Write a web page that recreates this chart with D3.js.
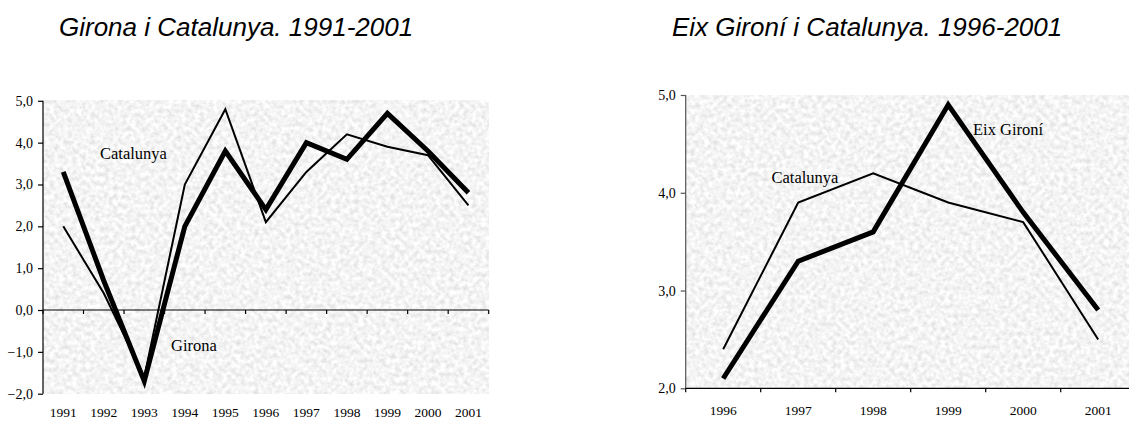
<!DOCTYPE html>
<html>
<head>
<meta charset="utf-8">
<script src="https://cdn.jsdelivr.net/npm/d3@7"></script>
<style>
  html, body { margin: 0; padding: 0; background: #fff; }
  svg { display: block; }
</style>
</head>
<body>
<svg id="chart" width="1129" height="421"></svg>
<script>
// ---- Data ----
const yearsLeft = ["1991","1992","1993","1994","1995","1996","1997","1998","1999","2000","2001"];
const gironaLeft = [3.3, 0.7, -1.7, 2.0, 3.8, 2.4, 4.0, 3.6, 4.7, 3.8, 2.8];
const catalunyaLeft = [2.0, 0.4, -1.6, 3.0, 4.8, 2.1, 3.3, 4.2, 3.9, 3.7, 2.5];
const yTicksLeft = [-2, -1, 0, 1, 2, 3, 4, 5];

const yearsRight = ["1996","1997","1998","1999","2000","2001"];
const eixRight = [2.1, 3.3, 3.6, 4.9, 3.8, 2.8];
const catalunyaRight = [2.4, 3.9, 4.2, 3.9, 3.7, 2.5];
const yTicksRight = [2, 3, 4, 5];

const titleLeft = "Girona i Catalunya. 1991-2001";
const titleRight = "Eix Gironí i Catalunya. 1996-2001";

// ---- Setup ----
const svg = d3.select("#chart");
const defs = svg.append("defs");
const f = defs.append("filter").attr("id", "noise")
  .attr("x", 0).attr("y", 0).attr("width", 1).attr("height", 1);
f.append("feTurbulence").attr("type", "fractalNoise")
  .attr("baseFrequency", 0.22).attr("numOctaves", 2).attr("seed", 7);
f.append("feColorMatrix").attr("type", "matrix")
  .attr("values", "0.45 0 0 0 0.68  0.45 0 0 0 0.68  0.45 0 0 0 0.68  0 0 0 0 1");

const fmt = v => d3.format(".1f")(v).replace(".", ",");
const serif = "'Liberation Serif', 'Times New Roman', serif";
const sans = "'Liberation Sans', Arial, sans-serif";

function drawPanel(opts) {
  const { years, thick, thin, yDomain, yTicks, xRange, yRange, axisY, axisColor } = opts;
  const x = d3.scaleBand().domain(years).range(xRange).padding(0);
  const y = d3.scaleLinear().domain(yDomain).range(yRange);
  const g = svg.append("g");

  // textured background
  g.append("rect")
    .attr("x", xRange[0]).attr("y", yRange[1])
    .attr("width", xRange[1] - xRange[0]).attr("height", yRange[0] - yRange[1])
    .attr("fill", "#e6e6e6")
    .attr("filter", "url(#noise)");

  // y axis
  const yAxis = d3.axisLeft(y).tickValues(yTicks).tickFormat(fmt).tickSize(5).tickPadding(5);
  const ya = g.append("g").attr("transform", `translate(${xRange[0]},0)`).call(yAxis);
  ya.select(".domain").attr("stroke", axisColor).attr("stroke-width", 1.2).attr("d", `M0,${yRange[1]}V${yRange[0]}`);
  ya.selectAll(".tick line").attr("stroke", axisColor).attr("stroke-width", 1.2);
  ya.selectAll("text").attr("font-family", serif).attr("font-size", 14).attr("fill", "#000");

  // x axis (ticks at category boundaries)
  const xa = g.append("g").attr("transform", `translate(0,${y(axisY)})`);
  xa.append("line").attr("x1", xRange[0]).attr("x2", xRange[1])
    .attr("stroke", "#000").attr("stroke-width", 1.2);
  const bounds = years.map(d => x(d)).concat([x(years[years.length - 1]) + x.bandwidth()]);
  xa.selectAll("line.tk").data(bounds).join("line").attr("class", "tk")
    .attr("x1", d => d).attr("x2", d => d).attr("y1", 0).attr("y2", 4)
    .attr("stroke", "#000").attr("stroke-width", 1.2);

  // year labels
  g.selectAll("text.yr").data(years).join("text").attr("class", "yr")
    .attr("x", d => x(d) + x.bandwidth() / 2)
    .attr("y", opts.yearLabelY)
    .attr("text-anchor", "middle")
    .attr("font-family", serif).attr("font-size", 13.5)
    .text(d => d);

  const line = d3.line().x((d, i) => x(years[i]) + x.bandwidth() / 2).y(d => y(d));
  g.append("path").datum(thin).attr("d", line)
    .attr("fill", "none").attr("stroke", "#000").attr("stroke-width", 2).attr("stroke-linejoin", "miter");
  g.append("path").datum(thick).attr("d", line)
    .attr("fill", "none").attr("stroke", "#000").attr("stroke-width", 5).attr("stroke-linejoin", "miter");
  return { x, y, g };
}

// Left panel
const L = drawPanel({
  years: yearsLeft, thick: gironaLeft, thin: catalunyaLeft,
  yDomain: [-2, 5], yTicks: yTicksLeft,
  xRange: [43, 488.7], yRange: [393.7, 100.8], axisY: 0,
  axisColor: "#000", yearLabelY: 416.5
});
// Right panel
const R = drawPanel({
  years: yearsRight, thick: eixRight, thin: catalunyaRight,
  yDomain: [2, 5], yTicks: yTicksRight,
  xRange: [685.7, 1135.7], yRange: [388.3, 95], axisY: 2,
  axisColor: "#555", yearLabelY: 414.5
});

// annotations
function label(text, xx, yy) {
  svg.append("text").attr("x", xx).attr("y", yy)
    .attr("font-family", serif).attr("font-size", 16.5).attr("fill", "#000").text(text);
}
label("Catalunya", 100, 159);
label("Girona", 171, 351);
label("Catalunya", 771.5, 183);
label("Eix Gironí", 973, 135);

// titles
svg.append("text").attr("x", 59).attr("y", 36)
  .attr("font-family", sans).attr("font-style", "italic").attr("font-size", 26).text(titleLeft);
svg.append("text").attr("x", 672).attr("y", 36)
  .attr("font-family", sans).attr("font-style", "italic").attr("font-size", 26).text(titleRight);
</script>
</body>
</html>
